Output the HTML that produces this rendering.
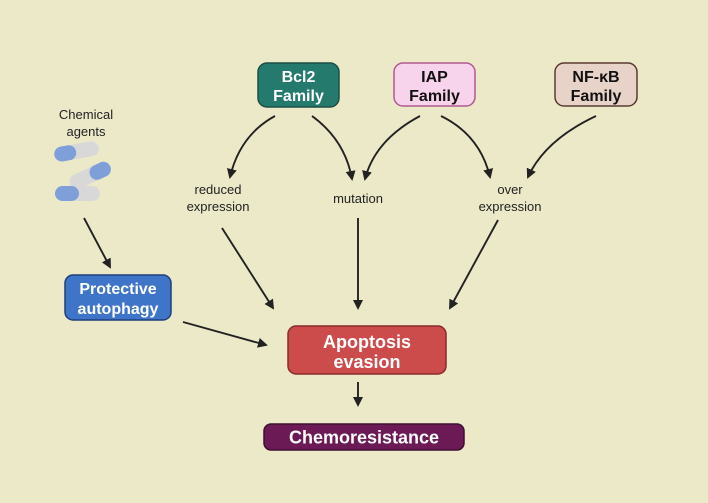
<!DOCTYPE html>
<html><head><meta charset="utf-8"><style>
body{margin:0;background:#ece9c9;}
svg{display:block;font-family:"Liberation Sans",sans-serif;}
</style></head><body>
<svg width="708" height="503" viewBox="0 0 708 503">
<defs><marker id="a" markerWidth="10" markerHeight="10" refX="8" refY="5" orient="auto" markerUnits="userSpaceOnUse"><path d="M0,0 L10,5 L0,10 Z" fill="#222"/></marker></defs>
<rect width="708" height="503" fill="#ece9c9"/>
<g fill="none" stroke="#222" stroke-width="1.9" marker-end="url(#a)">
<path d="M275,116 Q240,135 230,177"/>
<path d="M312,116 Q345,140 352,179"/>
<path d="M420,116 Q375,140 365,179"/>
<path d="M441,116 Q480,135 490,177"/>
<path d="M596,116 Q545,140 528,177"/>
<path d="M222,228 L273,308"/>
<path d="M358,218 L358,308"/>
<path d="M498,220 L450,308"/>
<path d="M84,218 L110,267"/>
<path d="M183,322 L266,345"/>
<path d="M358,382 L358,405"/>
</g>
<rect x="258" y="63" width="81" height="44" rx="9" fill="#257a6e" stroke="#1d4d45" stroke-width="1.5"/>
<text x="298.5" y="82" text-anchor="middle" fill="#fff" font-weight="bold" font-size="16">Bcl2</text>
<text x="298.5" y="101" text-anchor="middle" fill="#fff" font-weight="bold" font-size="16">Family</text>
<rect x="394" y="63" width="81" height="43" rx="9" fill="#f8d3ec" stroke="#b05a90" stroke-width="1.5"/>
<text x="434.5" y="82" text-anchor="middle" fill="#111" font-weight="bold" font-size="16">IAP</text>
<text x="434.5" y="101" text-anchor="middle" fill="#111" font-weight="bold" font-size="16">Family</text>
<rect x="555" y="63" width="82" height="43" rx="9" fill="#e7d3c8" stroke="#5a3a30" stroke-width="1.5"/>
<text x="596" y="82" text-anchor="middle" fill="#111" font-weight="bold" font-size="16">NF-κB</text>
<text x="596" y="101" text-anchor="middle" fill="#111" font-weight="bold" font-size="16">Family</text>
<text x="86" y="119" text-anchor="middle" fill="#222" font-size="13">Chemical</text>
<text x="86" y="136" text-anchor="middle" fill="#222" font-size="13">agents</text>
<g>
<rect x="54" y="144" width="45" height="15" rx="7.5" fill="#d8d8d8" transform="rotate(-10 76 151)"/>
<rect x="54" y="144" width="22" height="15" rx="7.5" fill="#7f9fd8" transform="rotate(-10 76 151)"/>
<rect x="68" y="168" width="44" height="15" rx="7.5" fill="#d8d8d8" transform="rotate(-25 90 175)"/>
<rect x="90" y="168" width="22" height="15" rx="7.5" fill="#7f9fd8" transform="rotate(-25 90 175)"/>
<rect x="55" y="186" width="45" height="15" rx="7.5" fill="#d8d8d8"/>
<rect x="55" y="186" width="24" height="15" rx="7.5" fill="#7f9fd8"/>
</g>
<text x="218" y="194" text-anchor="middle" fill="#222" font-size="13">reduced</text>
<text x="218" y="211" text-anchor="middle" fill="#222" font-size="13">expression</text>
<text x="358" y="203" text-anchor="middle" fill="#222" font-size="13">mutation</text>
<text x="510" y="194" text-anchor="middle" fill="#222" font-size="13">over</text>
<text x="510" y="211" text-anchor="middle" fill="#222" font-size="13">expression</text>
<rect x="65" y="275" width="106" height="45" rx="8" fill="#3e75c8" stroke="#1f3f7a" stroke-width="1.5"/>
<text x="118" y="294" text-anchor="middle" fill="#fff" font-weight="bold" font-size="16">Protective</text>
<text x="118" y="314" text-anchor="middle" fill="#fff" font-weight="bold" font-size="16">autophagy</text>
<rect x="288" y="326" width="158" height="48" rx="8" fill="#cc4b4b" stroke="#8a2a2a" stroke-width="1.5"/>
<text x="367" y="348" text-anchor="middle" fill="#fff" font-weight="bold" font-size="18">Apoptosis</text>
<text x="367" y="368" text-anchor="middle" fill="#fff" font-weight="bold" font-size="18">evasion</text>
<rect x="264" y="424" width="200" height="26" rx="7" fill="#6b1a55" stroke="#3f0e32" stroke-width="1.5"/>
<text x="364" y="443.5" text-anchor="middle" fill="#fff" font-weight="bold" font-size="18">Chemoresistance</text>
</svg>
</body></html>
